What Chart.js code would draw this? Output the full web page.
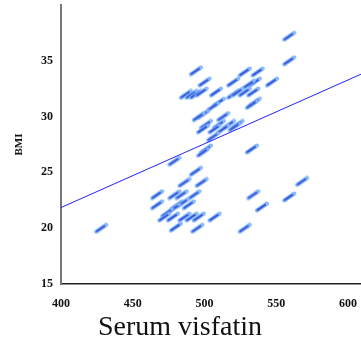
<!DOCTYPE html>
<html>
<head>
<meta charset="utf-8">
<script src="https://cdn.jsdelivr.net/npm/chart.js@4/dist/chart.umd.min.js"></script>
<style>
  html, body { margin: 0; padding: 0; background: #fff; }
  #wrap { width: 361px; height: 343px; }
</style>
</head>
<body>
<div id="wrap"><canvas id="chart" width="361" height="343"></canvas></div>
<script>
// serum visfatin vs BMI
const visfatin = [559, 559, 494, 528, 537, 500, 520, 535, 531, 547,
  487, 491, 494, 498, 508, 520, 523, 528, 534, 510,
  506, 535, 533, 499, 496, 513, 501, 510, 517, 523,
  499, 507, 513, 521, 506, 501, 499, 533, 479, 494,
  486, 498, 568, 467, 484, 493, 479, 534, 559, 467,
  481, 485, 479, 489, 540, 474, 472, 478, 486, 491,
  496, 507, 480, 495, 528, 428];
const bmi = [37.2, 35.0, 34.1, 34.0, 34.0, 33.1, 33.1, 33.1, 32.9, 33.1,
  32.0, 32.0, 32.0, 32.2, 32.2, 32.0, 32.2, 32.2, 32.2, 31.3,
  30.9, 31.3, 31.1, 30.2, 30.0, 30.0, 29.3, 29.3, 29.3, 29.3,
  28.9, 28.9, 28.9, 29.1, 28.2, 27.1, 26.8, 27.1, 26.0, 25.1,
  24.1, 24.1, 24.2, 23.0, 23.0, 23.0, 23.0, 23.0, 22.8, 22.1,
  22.1, 22.3, 21.8, 22.1, 21.9, 21.4, 21.0, 21.0, 21.0, 21.0,
  21.0, 21.0, 20.1, 20.0, 20.0, 20.0];

// fit line ends
const fitX = [400, 609];
const fitY = [21.85, 33.8];

const xTicks = [400, 450, 500, 550, 600];
const yTicks = [15, 20, 25, 30, 35];
const xTitle = 'Serum visfatin';

// smeared blue marker
const mark = document.createElement('canvas');
mark.width = 16; mark.height = 12;
const mc = mark.getContext('2d');
mc.lineCap = 'round';
mc.strokeStyle = 'rgba(120,175,250,0.9)';
mc.lineWidth = 4;
mc.beginPath(); mc.moveTo(3, 9.5); mc.lineTo(13, 2.5); mc.stroke();
mc.strokeStyle = '#3554d8';
mc.lineWidth = 2;
mc.beginPath(); mc.moveTo(3.5, 9); mc.lineTo(12.5, 3); mc.stroke();
mc.fillStyle = 'rgba(170,215,255,0.9)';
mc.beginPath(); mc.arc(12.6, 3, 1.1, 0, Math.PI * 2); mc.fill();

const pts = visfatin.map((v, i) => ({ x: v, y: bmi[i] }));
const fit = fitX.map((v, i) => ({ x: v, y: fitY[i] }));

const tickFont = { family: 'Liberation Serif', size: 12, weight: 'bold' };
const noPad = s => { s.paddingLeft = 0; s.paddingRight = 0; s.paddingTop = 0; s.paddingBottom = 0; };

// x title sits centred on the whole picture, not the plot
const xTitlePlugin = {
  id: 'xTitle',
  afterDraw(chart) {
    const ctx = chart.ctx;
    ctx.save();
    ctx.font = '28px "Liberation Serif"';
    ctx.fillStyle = '#111';
    ctx.textAlign = 'center';
    ctx.textBaseline = 'middle';
    ctx.fillText(xTitle, 180, 328);
    ctx.restore();
  }
};

new Chart(document.getElementById('chart'), {
  type: 'scatter',
  data: {
    datasets: [
      { data: pts, pointStyle: mark, pointRadius: 6, order: 2 },
      { type: 'line', data: fit, borderColor: '#2222ff', borderWidth: 1, pointRadius: 0, fill: false, order: 1 }
    ]
  },
  options: {
    responsive: false,
    animation: false,
    layout: { autoPadding: false, padding: { top: 5, right: 0, left: 0, bottom: 0 } },
    plugins: { legend: { display: false }, tooltip: { enabled: false } },
    scales: {
      x: {
        type: 'linear', min: 400, max: 609,
        afterBuildTicks: s => { s.ticks = xTicks.map(v => ({ value: v })); },
        afterFit: s => { s.height = 59; noPad(s); },
        grid: { display: false, drawTicks: false },
        border: { display: true, color: '#222', width: 1.5 },
        ticks: { color: '#111', font: tickFont, padding: 13, maxRotation: 0 }
      },
      y: {
        type: 'linear', min: 15, max: 40,
        afterBuildTicks: s => { s.ticks = yTicks.map(v => ({ value: v })); },
        afterFit: s => { s.width = 61; noPad(s); },
        grid: { display: false, drawTicks: false },
        border: { display: true, color: '#777', width: 2 },
        ticks: { color: '#111', font: tickFont, padding: 8 },
        title: { display: true, text: 'BMI', color: '#111',
          font: { family: 'Liberation Serif', size: 11, weight: 'bold' }, padding: { top: 13, bottom: 0 } }
      }
    }
  },
  plugins: [xTitlePlugin]
});
</script>
</body>
</html>
